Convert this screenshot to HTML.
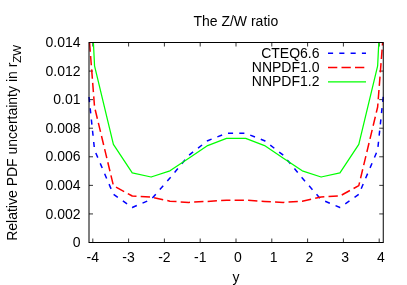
<!DOCTYPE html><html><head><meta charset="utf-8"><style>html,body{margin:0;padding:0;background:#fff}svg{display:block;will-change:transform}text{font-family:"Liberation Sans",sans-serif;font-size:14px;fill:#000}</style></head><body>
<svg width="407" height="285" viewBox="0 0 407 285">
<rect width="407" height="285" fill="#fff"/>
<path d="M89,242.50h4 M383.25,242.50h-4 M89,213.93h4 M383.25,213.93h-4 M89,185.36h4 M383.25,185.36h-4 M89,156.79h4 M383.25,156.79h-4 M89,128.21h4 M383.25,128.21h-4 M89,99.64h4 M383.25,99.64h-4 M89,71.07h4 M383.25,71.07h-4 M89,42.50h4 M383.25,42.50h-4 M92.80,242.5v-4 M92.80,42.5v4 M128.60,242.5v-4 M128.60,42.5v4 M164.40,242.5v-4 M164.40,42.5v4 M200.20,242.5v-4 M200.20,42.5v4 M236.00,242.5v-4 M236.00,42.5v4 M271.80,242.5v-4 M271.80,42.5v4 M307.60,242.5v-4 M307.60,42.5v4 M343.40,242.5v-4 M343.40,42.5v4 M379.20,242.5v-4 M379.20,42.5v4" stroke="#000" stroke-width="0.8" fill="none"/>
<g fill="none" stroke-width="1.5" stroke-linejoin="round">
<path d="M89.00,97.00 L94.55,150.00 L113.40,194.30 L132.25,207.50 L151.10,199.50 L169.95,178.00 L188.80,155.30 L207.65,140.70 L226.50,133.30 L245.70,133.30 L264.55,140.70 L283.40,155.30 L302.25,178.00 L321.10,199.50 L339.95,207.50 L358.80,194.30 L377.65,150.00 L383.25,96.53" stroke="#0000ff" stroke-dasharray="5.1,6.2"/>
<path d="M89.57,42.50 L94.55,107.00 L113.40,185.60 L132.25,196.00 L151.10,197.00 L169.95,201.20 L188.80,202.40 L207.65,201.40 L226.50,200.20 L245.70,200.20 L264.55,201.40 L283.40,202.40 L302.25,201.20 L321.10,197.00 L339.95,196.00 L358.80,185.60 L377.65,107.00 L382.63,42.50" stroke="#ff0000" stroke-dasharray="9.3,4.2"/>
<path d="M93.40,42.50 L94.55,65.80 L113.40,144.30 L132.25,172.80 L151.10,177.00 L169.95,170.80 L188.80,158.20 L207.65,145.60 L226.50,138.30 L245.70,138.30 L264.55,145.60 L283.40,158.20 L302.25,170.80 L321.10,177.00 L339.95,172.80 L358.80,144.30 L377.65,65.80 L378.80,42.50" stroke="#00ff00" stroke-width="1.25"/>
</g>
<rect x="89" y="42.5" width="294.25" height="200" fill="none" stroke="#000" stroke-width="1"/>
<text x="80.5" y="247.1" text-anchor="end">0</text>
<text x="80.5" y="218.5" text-anchor="end">0.002</text>
<text x="80.5" y="190.0" text-anchor="end">0.004</text>
<text x="80.5" y="161.4" text-anchor="end">0.006</text>
<text x="80.5" y="132.8" text-anchor="end">0.008</text>
<text x="80.5" y="104.2" text-anchor="end">0.01</text>
<text x="80.5" y="75.7" text-anchor="end">0.012</text>
<text x="80.5" y="47.1" text-anchor="end">0.014</text>
<text x="92.8" y="261.6" text-anchor="middle">-4</text>
<text x="128.6" y="261.6" text-anchor="middle">-3</text>
<text x="164.4" y="261.6" text-anchor="middle">-2</text>
<text x="200.2" y="261.6" text-anchor="middle">-1</text>
<text x="237.8" y="261.6" text-anchor="middle">0</text>
<text x="273.6" y="261.6" text-anchor="middle">1</text>
<text x="309.4" y="261.6" text-anchor="middle">2</text>
<text x="345.2" y="261.6" text-anchor="middle">3</text>
<text x="381.0" y="261.6" text-anchor="middle">4</text>
<text x="235.8" y="26" text-anchor="middle" font-size="14.15px">The Z/W ratio</text>
<text x="236" y="282.2" text-anchor="middle">y</text>
<text transform="translate(17.1,142.8) rotate(-90)" text-anchor="middle" font-size="14.15px">Relative PDF uncertainty in r<tspan font-size="11.5px" dy="4">ZW</tspan></text>
<text x="319.5" y="57.9" text-anchor="end">CTEQ6.6</text>
<path d="M328,53.2H366" stroke="#0000ff" stroke-width="1.5" stroke-dasharray="5.1,6.2" fill="none"/>
<text x="319.5" y="72.1" text-anchor="end">NNPDF1.0</text>
<path d="M328,67.5H366" stroke="#ff0000" stroke-width="1.5" stroke-dasharray="9.3,4.2" fill="none"/>
<text x="319.5" y="86.3" text-anchor="end">NNPDF1.2</text>
<path d="M328,81.8H366" stroke="#00ff00" stroke-width="1.25"  fill="none"/>
</svg></body></html>
